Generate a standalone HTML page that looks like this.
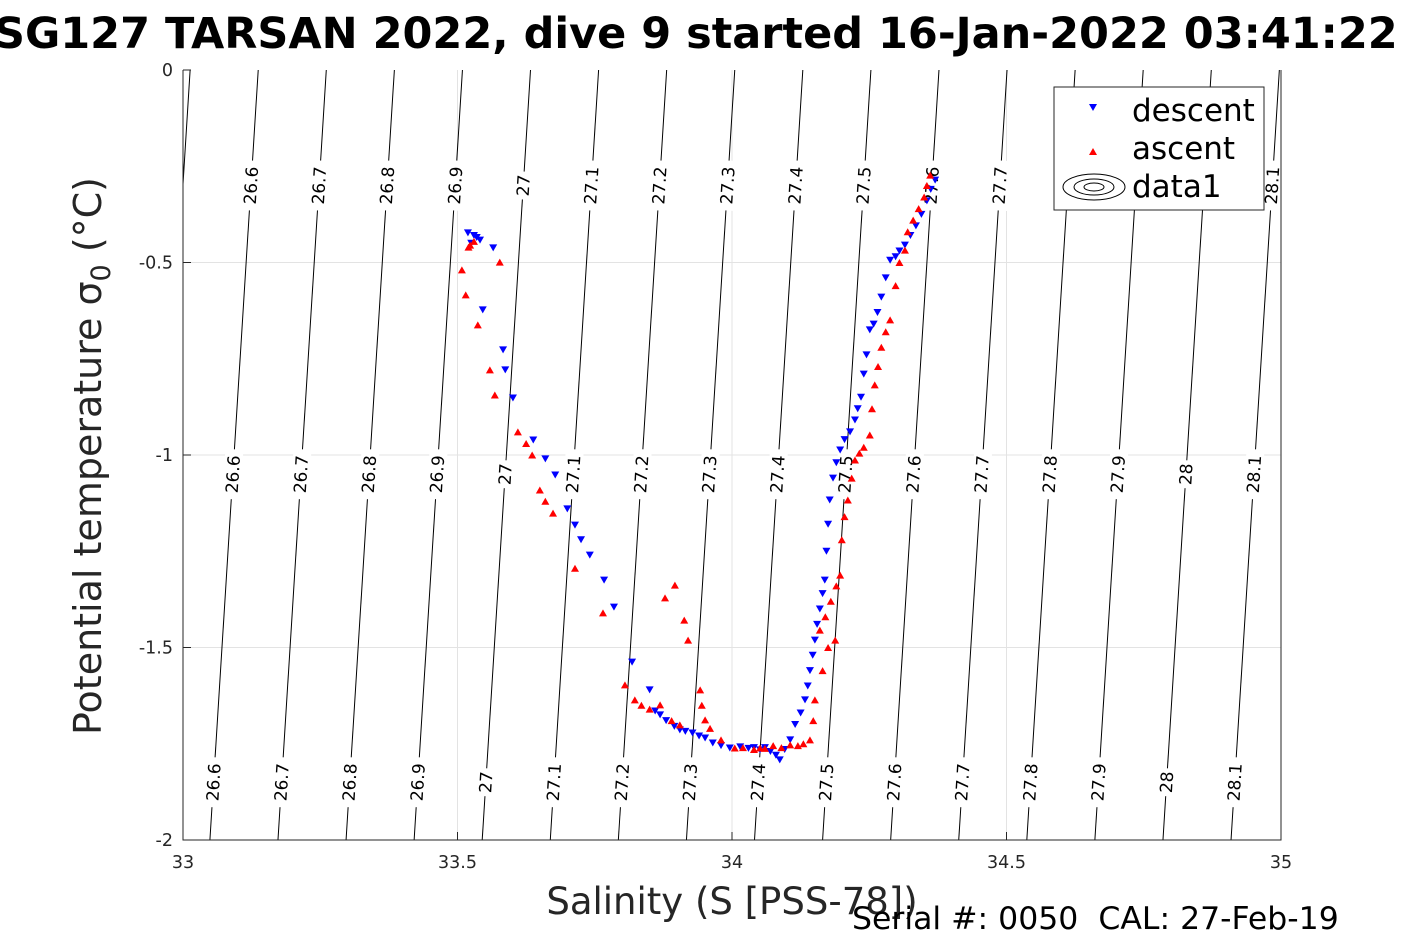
<!DOCTYPE html>
<html><head><meta charset="utf-8">
<style>
body{margin:0;background:#fff;}
svg{display:block;font-family:"DejaVu Sans","Liberation Sans",sans-serif;}
</style></head>
<body>
<svg id="chart" width="1417" height="945" viewBox="0 0 1417 945" xmlns="http://www.w3.org/2000/svg">
<rect width="1417" height="945" fill="#fff"/>
<text x="-6" y="48" font-size="43" font-weight="bold" fill="#000">SG127 TARSAN 2022, dive 9 started 16-Jan-2022 03:41:22</text>
<g id="grid"></g>
<g id="contours"></g>
<g id="marks"></g>
<g id="axes"></g>
<text x="732" y="914" font-size="37" text-anchor="middle" fill="#262626">Salinity (S [PSS-78])</text>
<text transform="translate(101,456) rotate(-90)" font-size="38" text-anchor="middle" fill="#262626">Potential temperature σ<tspan font-size="27" dy="9">0</tspan><tspan dy="-9"> (°C)</tspan></text>
<text x="852" y="929" font-size="31.5" fill="#000" style="white-space:pre">Serial #: 0050  CAL: 27-Feb-19</text>
<g>
<rect x="1054" y="87" width="210" height="123" fill="#fff" stroke="#262626" stroke-width="1"/>
<path d="M1089,104 l8,0 l-4,7 z" fill="#00f"/>
<text x="1132" y="121" font-size="31">descent</text>
<path d="M1089,155 l8,0 l-4,-7 z" fill="#f00"/>
<text x="1132" y="159" font-size="31">ascent</text>
<ellipse cx="1094" cy="187" rx="31" ry="13" fill="none" stroke="#000"/>
<ellipse cx="1094" cy="187" rx="20" ry="8" fill="none" stroke="#000"/>
<ellipse cx="1094" cy="187" rx="10" ry="4" fill="none" stroke="#000"/>
<text x="1132" y="197" font-size="31">data1</text>
</g>
</svg>
<script>
const xTicks=[33,33.5,34,34.5,35];
const xTickLabels=["33","33.5","34","34.5","35"];
const yTicks=[0,-0.5,-1,-1.5,-2];
const yTickLabels=["0","-0.5","-1","-1.5","-2"];
const sigmaLevels=[26.5,26.6,26.7,26.8,26.9,27,27.1,27.2,27.3,27.4,27.5,27.6,27.7,27.8,27.9,28,28.1,28.2];
const topLabelLevels=[26.6,26.7,26.8,26.9,27,27.1,27.2,27.3,27.4,27.5,27.6,27.7,28.1];
const labelRowsT=[-0.3,-1.05,-1.85];
const descentS=[34.370,34.362,34.355,34.345,34.335,34.325,34.315,34.305,34.298,34.288,34.280,34.272,34.265,34.258,34.251,34.245,34.240,34.235,34.229,34.224,34.215,34.205,34.197,34.190,34.184,34.178,34.175,34.172,34.169,34.165,34.160,34.155,34.151,34.147,34.142,34.138,34.133,34.125,34.115,34.106,34.096,34.087,34.080,34.070,34.060,34.051,34.040,34.030,34.015,33.996,33.980,33.965,33.951,33.940,33.928,33.915,33.905,33.895,33.880,33.869,33.860,33.850,33.818,33.785,33.767,33.741,33.725,33.714,33.700,33.678,33.660,33.638,33.601,33.587,33.583,33.546,33.565,33.541,33.530,33.519,33.525,33.535];
const descentT=[-0.286,-0.310,-0.340,-0.375,-0.405,-0.430,-0.455,-0.470,-0.485,-0.494,-0.540,-0.590,-0.630,-0.660,-0.675,-0.740,-0.790,-0.850,-0.880,-0.909,-0.940,-0.960,-0.987,-1.020,-1.060,-1.117,-1.180,-1.250,-1.325,-1.360,-1.400,-1.440,-1.481,-1.520,-1.560,-1.600,-1.636,-1.670,-1.700,-1.740,-1.765,-1.792,-1.780,-1.770,-1.760,-1.766,-1.760,-1.762,-1.758,-1.761,-1.755,-1.748,-1.735,-1.730,-1.722,-1.718,-1.714,-1.705,-1.690,-1.675,-1.665,-1.610,-1.538,-1.395,-1.325,-1.260,-1.220,-1.182,-1.140,-1.052,-1.010,-0.961,-0.852,-0.779,-0.727,-0.623,-0.462,-0.442,-0.430,-0.423,-0.450,-0.435];
const ascentS=[34.361,34.355,34.350,34.340,34.330,34.320,34.315,34.305,34.298,34.288,34.280,34.272,34.266,34.260,34.255,34.251,34.240,34.232,34.224,34.218,34.211,34.205,34.200,34.197,34.190,34.180,34.170,34.160,34.188,34.175,34.165,34.151,34.148,34.142,34.130,34.120,34.106,34.090,34.075,34.060,34.051,34.040,34.020,34.005,33.980,33.960,33.951,33.945,33.942,33.920,33.913,33.896,33.878,33.905,33.890,33.869,33.850,33.835,33.823,33.805,33.765,33.714,33.674,33.660,33.650,33.636,33.625,33.610,33.568,33.559,33.537,33.515,33.508,33.577,33.523,33.530,33.520];
const ascentT=[-0.273,-0.300,-0.330,-0.360,-0.390,-0.420,-0.468,-0.500,-0.560,-0.649,-0.680,-0.720,-0.770,-0.818,-0.880,-0.948,-0.980,-0.995,-1.013,-1.060,-1.117,-1.160,-1.220,-1.312,-1.340,-1.380,-1.420,-1.455,-1.481,-1.500,-1.560,-1.636,-1.690,-1.740,-1.750,-1.755,-1.753,-1.760,-1.755,-1.762,-1.761,-1.765,-1.760,-1.761,-1.740,-1.710,-1.688,-1.650,-1.610,-1.481,-1.429,-1.338,-1.371,-1.701,-1.690,-1.649,-1.660,-1.650,-1.636,-1.597,-1.410,-1.294,-1.151,-1.120,-1.091,-1.000,-0.970,-0.940,-0.844,-0.779,-0.662,-0.584,-0.519,-0.499,-0.455,-0.445,-0.460];

const NS="http://www.w3.org/2000/svg";
const X0=183,X1=1281,Y0=70,Y1=840;
const xs=s=>X0+(s-33)/(35-33)*(X1-X0);
const ys=t=>Y0+(0-t)/(0-(-2))*(Y1-Y0);
function mk(tag,attrs,parent){const e=document.createElementNS(NS,tag);for(const k in attrs)e.setAttribute(k,attrs[k]);parent.appendChild(e);return e;}
const grid=document.getElementById('grid'),cont=document.getElementById('contours'),marks=document.getElementById('marks'),axes=document.getElementById('axes');
mk('rect',{x:X0,y:Y0,width:X1-X0,height:Y1-Y0,fill:'#fff'},grid);
xTicks.forEach(v=>{if(v>33&&v<35){const l=mk('line',{x1:xs(v),x2:xs(v),y1:Y0,y2:Y1,stroke:'#e3e3e3','stroke-width':1},grid);}});
yTicks.forEach(v=>{if(v<0&&v>-2){const l=mk('line',{x1:X0,x2:X1,y1:ys(v),y2:ys(v),stroke:'#e3e3e3','stroke-width':1},grid);}});
const sOf=(sig,t)=>33.137+(sig-26.6)*1.24+0.044*t;
const cpath=mk('clipPath',{id:'pc'},cont);
mk('rect',{x:X0,y:Y0,width:X1-X0,height:Y1-Y0},cpath);
const cg=mk('g',{'clip-path':'url(#pc)'},cont);
const ang=Math.atan2(ys(-2)-ys(0),xs(sOf(27,-2))-xs(sOf(27,0)))*180/Math.PI;
sigmaLevels.forEach(sig=>{
  const l=mk('line',{x1:xs(sOf(sig,0)),y1:ys(0),x2:xs(sOf(sig,-2)),y2:ys(-2),stroke:'#000','stroke-width':1},cg);
  
  
  labelRowsT.forEach((t,i)=>{
    if(i===0&&topLabelLevels.indexOf(sig)<0)return;
    if(sig<26.6||sig>28.1)return;
    const cx=xs(sOf(sig,t)),cy=ys(t);
    const g=mk('g',{transform:`translate(${cx},${cy}) rotate(${ang-180})`},cg);
    
    
    const txt=String(Math.round(sig*10)/10);
    const w=txt.length*11+6;
    mk('rect',{x:-w/2,y:-9,width:w,height:18,fill:'#fff'},g);
    const te=mk('text',{x:0,y:6,'font-size':17,'text-anchor':'middle',fill:'#000'},g);te.textContent=txt;
  });
});
descentS.forEach((s,i)=>{const x=xs(s),y=ys(descentT[i]);const p=mk('path',{d:`M${x-4},${y-3.5} L${x+4},${y-3.5} L${x},${y+3.5} Z`,fill:'#00f'},marks);});
ascentS.forEach((s,i)=>{const x=xs(s),y=ys(ascentT[i]);const p=mk('path',{d:`M${x-4},${y+3.5} L${x+4},${y+3.5} L${x},${y-3.5} Z`,fill:'#f00'},marks);});
const fr=mk('path',{d:`M${X0},${Y0} L${X0},${Y1} L${X1},${Y1} L${X1},${Y0}`,fill:'none',stroke:'#262626','stroke-width':1},axes);

xTicks.forEach((v,i)=>{mk('line',{x1:xs(v),x2:xs(v),y1:Y1,y2:Y1-8,stroke:'#262626'},axes);const t=mk('text',{x:xs(v),y:Y1+28,'font-size':17.5,'text-anchor':'middle',fill:'#262626'},axes);t.textContent=xTickLabels[i];});
yTicks.forEach((v,i)=>{mk('line',{x1:X0,x2:X0+8,y1:ys(v),y2:ys(v),stroke:'#262626'},axes);const t=mk('text',{x:X0-10,y:ys(v)+6,'font-size':17.5,'text-anchor':'end',fill:'#262626'},axes);t.textContent=yTickLabels[i];});
</script>
</body></html>
